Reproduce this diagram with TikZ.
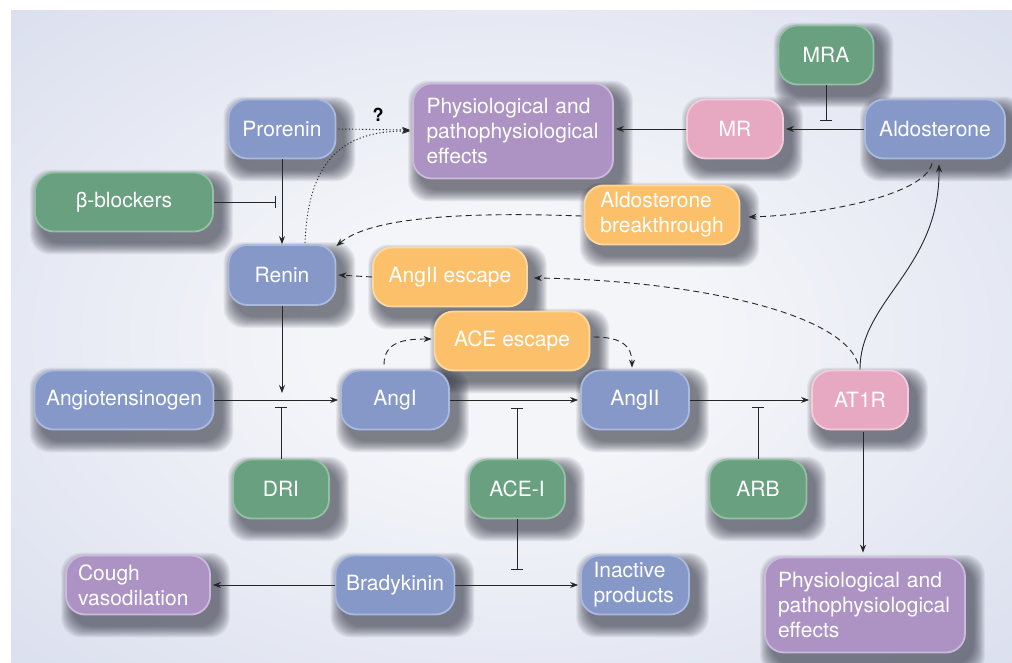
\documentclass[tikz,border=0pt]{standalone}
\usepackage{fontspec}
\setmainfont{TeX Gyre Heros}
\usetikzlibrary{arrows.meta,calc}
\definecolor{cblue}{RGB}{133,152,200}
\definecolor{rblue}{RGB}{170,185,222}
\definecolor{cpurple}{RGB}{172,147,196}
\definecolor{rpurple}{RGB}{203,186,221}
\definecolor{cpink}{RGB}{231,169,193}
\definecolor{rpink}{RGB}{243,203,217}
\definecolor{cgreen}{RGB}{104,160,128}
\definecolor{rgreen}{RGB}{148,193,163}
\definecolor{corange}{RGB}{252,192,107}
\definecolor{rorange}{RGB}{253,216,158}
\definecolor{bgc}{RGB}{244,245,249}
\definecolor{bge}{RGB}{205,212,233}
\definecolor{shadowc}{RGB}{45,48,62}
\pgfdeclareradialshading{bgshade}{\pgfpoint{0bp}{0bp}}{color(0bp)=(bgc); color(10bp)=(bgc); color(50bp)=(bge); color(75bp)=(bge)}
\pgfdeclarelayer{bglayer}
\pgfdeclarelayer{shlayer}
\pgfsetlayers{bglayer,shlayer,main}
\begin{document}
\begin{tikzpicture}[x=1pt,y=-1pt,
  box/.style={rounded corners=19pt, inner sep=0pt, minimum height=59pt, text=white,
    font=\fontsize{21}{25}\selectfont, line width=1.8pt},
  bluebox/.style={box, fill=cblue, draw=rblue},
  purplebox/.style={box, fill=cpurple, draw=rpurple},
  pinkbox/.style={box, fill=cpink, draw=rpink},
  greenbox/.style={box, fill=cgreen, draw=rgreen},
  orangebox/.style={box, fill=corange, draw=rorange},
  shadowlayer/.style={fill=shadowc, opacity=0.07, rounded corners=20pt},
  conn/.style={line width=0.9pt, draw=black!85},
  arr/.style={conn, -{Stealth[length=8pt,width=6pt]}},
  inh/.style={conn, -{Bar[width=12pt,line width=0.9pt]}},
  dsh/.style={dash pattern=on 6pt off 4pt},
  dotline/.style={dash pattern=on 1.2pt off 2.2pt},
]
\useasboundingbox (0,0) rectangle (1012,663);
\begin{pgfonlayer}{bglayer}
\fill[white] (0,0) rectangle (1012,663);
\shade[shading=bgshade] (11,11) rectangle (1012,663);
\end{pgfonlayer}

% nodes
\node[bluebox, minimum width=107pt] (prorenin) at (282,129) {Prorenin};
\node[purplebox, minimum width=200pt, minimum height=95pt, text width=173pt, align=left] (phys1) at (513,131) {Physiological and\\pathophysiological\\effects};
\node[pinkbox, minimum width=96pt] (mr) at (735,129) {MR};
\node[greenbox, minimum width=95pt] (mra) at (826,55) {MRA};
\node[bluebox, minimum width=140pt] (aldo) at (935,129) {Aldosterone};
\node[greenbox, minimum width=178pt] (beta) at (124,202) {β-blockers};
\node[orangebox, minimum width=155pt, align=left] (aldob) at (662,215) {Aldosterone\\breakthrough};
\node[bluebox, minimum width=107pt, minimum height=60pt] (renin) at (282,275) {Renin};
\node[orangebox, minimum width=154pt] (angesc) at (450,277) {AngII escape};
\node[orangebox, minimum width=155pt] (aceesc) at (512,341) {ACE escape};
\node[bluebox, minimum width=179pt] (angiogen) at (124,400) {Angiotensinogen};
\node[bluebox, minimum width=108pt] (angI) at (395,400) {AngI};
\node[bluebox, minimum width=108pt] (angII) at (635,400) {AngII};
\node[pinkbox, minimum width=96pt] (at1r) at (860,400) {AT1R};
\node[greenbox, minimum width=96pt] (dri) at (281,489) {DRI};
\node[greenbox, minimum width=96pt] (acei) at (517,489) {ACE-I};
\node[greenbox, minimum width=97pt] (arb) at (758,489) {ARB};
\node[purplebox, minimum width=144pt, text width=120pt, align=left] (cough) at (138,585) {Cough\\vasodilation};
\node[bluebox, minimum width=119pt] (brady) at (395,585) {Bradykinin};
\node[bluebox, minimum width=108pt, text width=83pt, align=left] (inactive) at (635,585) {Inactive\\products};
\node[purplebox, minimum width=200pt, minimum height=95pt, text width=174pt, align=left] (phys2) at (865,605) {Physiological and\\pathophysiological\\effects};
\node[font=\bfseries\fontsize{18}{18}\selectfont, inner sep=0pt] (q) at (378,115) {?};

% soft shadows
\begin{pgfonlayer}{shlayer}
\foreach \n in {prorenin,phys1,mr,mra,aldo,beta,aldob,renin,angesc,aceesc,angiogen,angI,angII,at1r,dri,acei,arb,cough,brady,inactive,phys2}{
  \foreach \i in {0,...,11}{
    \fill[shadowlayer] ($(\n.north west)+(7-\i,9-\i)$) rectangle ($(\n.south east)+(8+\i,11+\i)$);
  }
}
\end{pgfonlayer}

% connectors
\draw[arr] (prorenin.south) -- (renin.north);
\draw[inh] (beta.east) -- ($(prorenin.south |- beta.east)+(-6,0)$);
\draw[arr,dotline] ($(prorenin.east)+(2,0)$) -- ($(phys1.west)+(-2,-1)$);
\draw[arr,dotline] ($(renin.north)+(23,-1)$) .. controls +(3,-80) and +(-70,0) .. ($(phys1.west)+(-2,0)$);
\draw[arr] (mr.west) -- ($(mr.west -| phys1.east)+(2,0)$);
\draw[arr] (aldo.west) -- ($(mr.east)+(2,0)$);
\draw[inh] (mra.south) -- ($(mra.south |- aldo.west)+(0,-8)$);
\draw[arr,dsh] ($(aldo.south)+(-3,4)$) .. controls +(-7,32) and +(72,-2) .. ($(aldob.east)+(8,2)$);
\draw[arr,dsh] ($(aldob.west)+(-2,1)$) .. controls +(-110,-4) and +(35,-30) .. ($(renin.north east)+(0,2)$);
\draw[arr,dsh] (angesc.west) -- ($(renin.east)+(2,0)$);
\draw[arr,dsh] ($(at1r.north)+(-2,-6)$) .. controls +(-18,-54) and +(147,2) .. ($(angesc.east)+(6,1)$);
\draw[arr] (at1r.north) .. controls +(0,-70) and +(1,105) .. ($(aldo.south)+(4,5)$);
\draw[arr] (renin.south) -- ($(renin.south |- angiogen.east)+(0,-7)$);
\draw[arr] (angiogen.east) -- ($(angI.west)+(-2,0)$);
\draw[inh] (dri.north) -- ($(dri.north |- angiogen.east)+(0,7)$);
\draw[arr] (angI.east) -- ($(angII.west)+(-2,0)$);
\draw[inh] (acei.north) -- ($(acei.north |- angI.east)+(0,8)$);
\draw[inh] (acei.south) -- ($(acei.south |- brady.east)+(0,-15)$);
\draw[arr] (angII.east) -- ($(at1r.west)+(-2,0)$);
\draw[inh] (arb.north) -- ($(arb.north |- angII.east)+(0,7)$);
\draw[arr] ($(at1r.south)+(3,2)$) -- ($(at1r.south |- phys2.north)+(3,-4)$);
\draw[arr] (brady.west) -- ($(cough.east)+(2,0)$);
\draw[arr] (brady.east) -- ($(inactive.west)+(-2,0)$);
\draw[arr,dsh] ($(angI.north)+(-11,-5)$) .. controls +(0,-24) and +(-25,0) .. ($(aceesc.west)+(-2,-2)$);
\draw[arr,dsh] ($(aceesc.east)+(3,-4)$) .. controls +(28,0) and +(0,-22) .. ($(angII.north)+(-3,-2)$);
\end{tikzpicture}
\end{document}
